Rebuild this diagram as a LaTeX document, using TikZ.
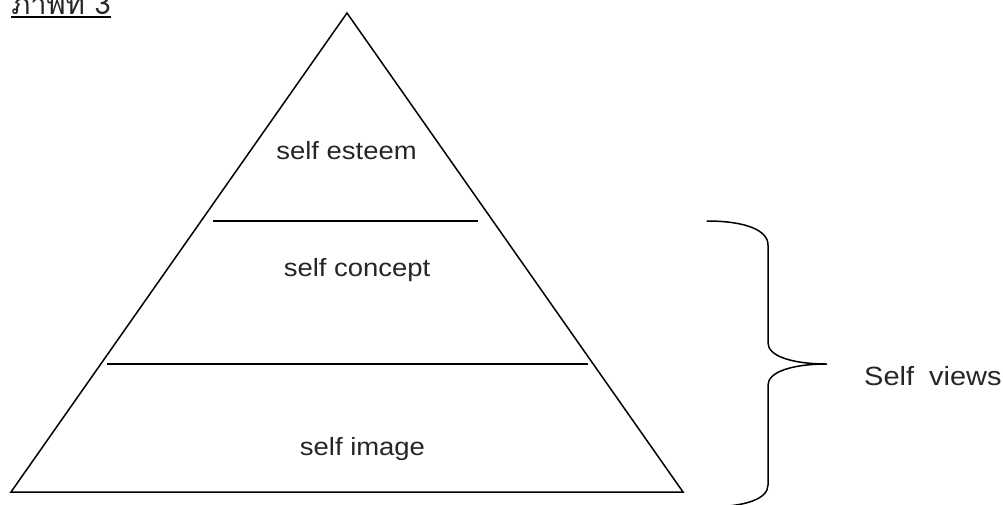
\documentclass[tikz,border=0pt]{standalone}
\usepackage{fontspec}
\setmainfont{Liberation Sans}[FakeStretch=1.1]
\newfontfamily\thaifont[Script=Thai]{Loma}
\begin{document}
\begin{tikzpicture}[x=0.02cm,y=-0.02cm,
  shape line/.style={line width=0.85pt,black},
  label text/.style={inner sep=0pt,anchor=base,text=black!85,font=\fontsize{14.2pt}{17pt}\selectfont}]
\useasboundingbox (0,0) rectangle (1003,504);
% pyramid
\coordinate (apex) at (347,13);
\coordinate (bl) at (11,492);
\coordinate (br) at (683,492);
\draw[shape line,line join=miter] (apex) -- (br) -- (bl) -- cycle;
\draw[shape line] (213,221) -- (478,221);
\draw[shape line] (107,364) -- (588,364);
% labels
\node[label text] (esteem) at (346.5,159) {self esteem};
\node[label text] (concept) at (357,276) {self concept};
\node[label text] (image) at (362.5,455) {self image};
\node[label text,anchor=base east,font=\fontsize{15pt}{18pt}\selectfont] (views) at (1002,385) {Self\hspace{0.3cm}views};
% brace
\draw[shape line,line cap=round]
  (707,221) .. controls (745,221) and (768,230) .. (768,245)
  -- (768,343) .. controls (768,356) and (792,364) .. (827,364)
  .. controls (792,364) and (768,372) .. (768,385)
  -- (768,485) .. controls (768,499) and (745,507) .. (707,507);
% title
\node[inner sep=0pt,anchor=base west,text=black!85,font=\thaifont\fontsize{16.5pt}{19pt}\selectfont] (title) at (11,14) {ภาพที่ 3};
\draw[line width=1.1pt,black] ([yshift=-1.5pt]title.base west) -- ([yshift=-1.5pt]title.base east);
\end{tikzpicture}
\end{document}
